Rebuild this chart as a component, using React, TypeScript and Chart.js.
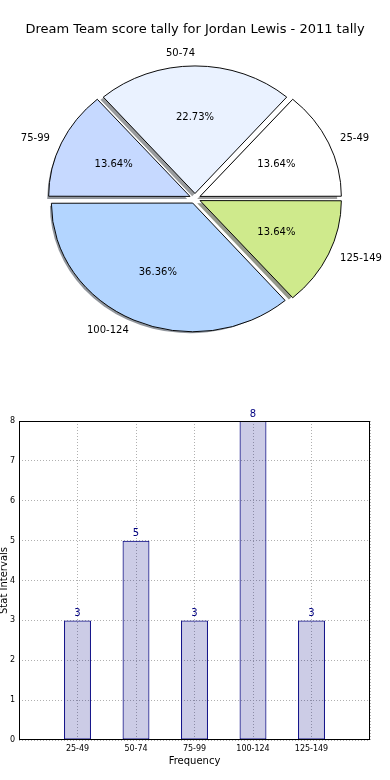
import React, { useEffect, useRef } from 'react';
import { Chart, registerables } from 'chart.js';

Chart.register(...registerables);

const FONT = '"DejaVu Sans", "Liberation Sans", sans-serif';

const chartTitle = 'Dream Team score tally for Jordan Lewis - 2011 tally';
const categories = ['25-49', '50-74', '75-99', '100-124', '125-149'];
const counts = [3, 5, 3, 8, 3];
const sliceColors = ['#FFFFFF', '#EAF2FF', '#C6D9FF', '#B3D5FF', '#CFEA8C'];
const xAxisTitle = 'Frequency';
const yAxisTitle = 'Stat Intervals';

// pie drawn counter-clockwise from the east in the reference; Chart.js goes clockwise
const pieLabels = [...categories].reverse();
const pieValues = [...counts].reverse();
const pieColors = [...sliceColors].reverse();

const RX = 140;
const K = 127.5 / 140; // vertical squash of the (non-equal-aspect) pie

function shadowOf(hex: string) {
  const n = parseInt(hex.slice(1), 16);
  const r = ((n >> 16) & 255) * 0.3;
  const g = ((n >> 8) & 255) * 0.3;
  const b = (n & 255) * 0.3;
  return `rgba(${r.toFixed(0)},${g.toFixed(0)},${b.toFixed(0)},0.55)`;
}

const piePlugin = {
  id: 'pieShape',
  beforeDatasetsDraw(chart: any) {
    const ctx = chart.ctx;
    const meta = chart.getDatasetMeta(0);
    const a0 = meta.data[0];
    const cx = a0.x;
    const cy = a0.y;
    ctx.save();
    ctx.translate(cx, cy);
    ctx.scale(1, K);
    ctx.translate(-cx, -cy);
    meta.data.forEach((arc: any, i: number) => {
      const p = arc.getProps(['x', 'y', 'startAngle', 'endAngle', 'outerRadius'], true);
      const off = (arc.options.offset || 0) / 4;
      const mid = (p.startAngle + p.endAngle) / 2;
      const ox = p.x + Math.cos(mid) * off - 2.8;
      const oy = p.y + Math.sin(mid) * off + 2.9;
      ctx.beginPath();
      ctx.moveTo(ox, oy);
      ctx.arc(ox, oy, p.outerRadius, p.startAngle, p.endAngle);
      ctx.closePath();
      ctx.fillStyle = shadowOf(pieColors[i]);
      ctx.fill();
    });
  },
  afterDatasetsDraw(chart: any) {
    const ctx = chart.ctx;
    ctx.restore();
    const meta = chart.getDatasetMeta(0);
    const total = pieValues.reduce((a, b) => a + b, 0);
    ctx.save();
    ctx.fillStyle = '#000';
    ctx.font = `10px ${FONT}`;
    ctx.textBaseline = 'middle';
    meta.data.forEach((arc: any, i: number) => {
      const p = arc.getProps(['x', 'y', 'startAngle', 'endAngle', 'outerRadius'], true);
      const mid = (p.startAngle + p.endAngle) / 2;
      const off = (arc.options.offset || 0) / 4;
      const c = Math.cos(mid);
      const s = Math.sin(mid);
      const ex = p.x + c * off;
      const ey = p.y + s * off * K;
      const R = p.outerRadius;
      ctx.textAlign = c > 1e-6 ? 'left' : 'right';
      ctx.fillText(pieLabels[i], ex + 1.1 * R * c, ey + 1.1 * R * s * K);
      ctx.textAlign = 'center';
      ctx.fillText(((pieValues[i] / total) * 100).toFixed(2) + '%', ex + 0.6 * R * c, ey + 0.6 * R * s * K);
    });
    ctx.restore();
  },
  afterDraw(chart: any) {
    const ctx = chart.ctx;
    ctx.save();
    ctx.fillStyle = '#000';
    ctx.font = `13px ${FONT}`;
    ctx.textAlign = 'center';
    ctx.textBaseline = 'middle';
    ctx.fillText(chartTitle, chart.width / 2, 30);
    ctx.restore();
  },
};

const barPlugin = {
  id: 'barExtras',
  afterDatasetsDraw(chart: any) {
    const ctx = chart.ctx;
    const meta = chart.getDatasetMeta(0);
    ctx.save();
    ctx.fillStyle = '#000080';
    ctx.font = `10px ${FONT}`;
    ctx.textAlign = 'center';
    ctx.textBaseline = 'bottom';
    meta.data.forEach((el: any, i: number) => {
      ctx.fillText(String(counts[i]), el.x, el.y - 2);
    });
    ctx.restore();
  },
  afterDraw(chart: any) {
    const ctx = chart.ctx;
    const a = chart.chartArea;
    ctx.save();
    ctx.strokeStyle = '#000';
    ctx.lineWidth = 1;
    const l = Math.round(a.left) + 0.5;
    const t = Math.round(a.top) + 0.5;
    const r = Math.round(a.right) - 0.5;
    const b = Math.round(a.bottom) - 0.5;
    ctx.strokeRect(l, t, r - l, b - t);
    ctx.translate(7, (a.top + a.bottom) / 2);
    ctx.rotate(-Math.PI / 2);
    ctx.fillStyle = '#000';
    ctx.font = `10px ${FONT}`;
    ctx.textAlign = 'center';
    ctx.textBaseline = 'alphabetic';
    ctx.fillText(yAxisTitle, 0, 0);
    ctx.restore();
  },
};

export default function App() {
  const pieRef = useRef<HTMLCanvasElement>(null);
  const barRef = useRef<HTMLCanvasElement>(null);

  useEffect(() => {
    document.body.style.margin = '0';
    const pie = new Chart(pieRef.current as HTMLCanvasElement, {
      type: 'pie',
      data: {
        labels: pieLabels,
        datasets: [
          {
            data: pieValues,
            backgroundColor: pieColors,
            borderColor: '#000',
            borderWidth: 1,
            offset: 22,
            radius: RX,
          } as any,
        ],
      },
      options: {
        animation: false,
        responsive: false,
        events: [],
        rotation: 90,
        radius: RX,
        layout: { padding: { top: 0, left: 0, right: 0, bottom: 3 } },
        plugins: { legend: { display: false }, tooltip: { enabled: false }, title: { display: false } },
      } as any,
      plugins: [piePlugin],
    });

    const gridCommon = { color: '#b0b0b0', drawTicks: false, lineWidth: 1 };
    const bar = new Chart(barRef.current as HTMLCanvasElement, {
      type: 'bar',
      data: {
        datasets: [
          {
            data: categories.map((_, i) => ({ x: i + 1, y: counts[i] })),
            backgroundColor: 'rgba(0,0,128,0.2)',
            borderColor: '#000080',
            borderWidth: 1,
            borderSkipped: false,
            barPercentage: 0.46,
            categoryPercentage: 1,
          } as any,
        ],
      },
      options: {
        animation: false,
        responsive: false,
        events: [],
        layout: { padding: { top: 21, right: 20, left: 0, bottom: 0 } },
        scales: {
          x: {
            type: 'linear',
            min: 0,
            max: 6,
            offset: false,
            grid: { ...gridCommon, offset: false },
            border: { display: false, dash: [1, 2], color: '#000' },
            ticks: {
              stepSize: 1,
              padding: 4,
              color: '#000',
              autoSkip: false,
              maxRotation: 0,
              font: { size: 8, family: FONT },
              callback: (v: any) => categories[Number(v) - 1] ?? '',
            },
            title: {
              display: true,
              text: xAxisTitle,
              color: '#000',
              font: { size: 10, family: FONT },
              padding: { top: 0, bottom: 13 },
            },
            afterFit: (s: any) => {
              s.height = 40;
            },
          },
          y: {
            min: 0,
            max: 8,
            grid: gridCommon,
            border: { display: false, dash: [1, 2], color: '#000' },
            ticks: {
              stepSize: 1,
              padding: 4,
              color: '#000',
              font: { size: 8, family: FONT },
            },
            afterFit: (s: any) => {
              s.width = 19;
            },
          },
        },
        plugins: { legend: { display: false }, tooltip: { enabled: false } },
      } as any,
      plugins: [barPlugin],
    });

    return () => {
      pie.destroy();
      bar.destroy();
    };
  }, []);

  return (
    <div style={{ position: 'absolute', left: 0, top: 0, width: 390, height: 780, background: '#fff' }}>
      <canvas ref={pieRef} width={390} height={400} style={{ position: 'absolute', left: 0, top: 0 }} />
      <canvas ref={barRef} width={390} height={380} style={{ position: 'absolute', left: 0, top: 400 }} />
    </div>
  );
}
